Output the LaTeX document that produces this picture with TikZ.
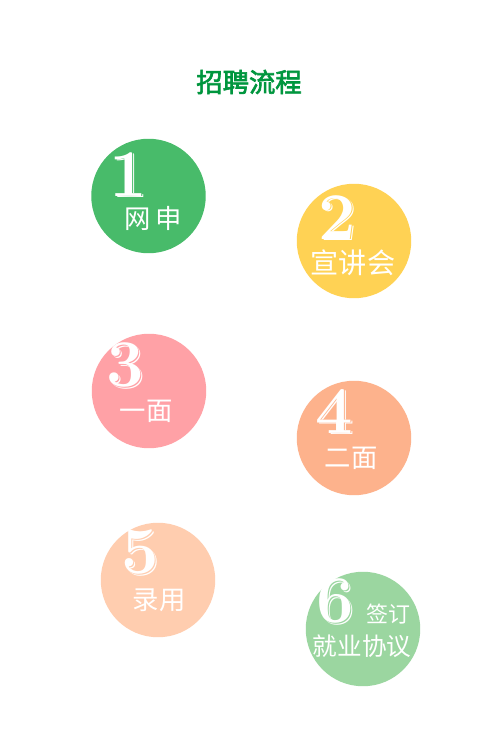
\documentclass[tikz,border=0pt]{standalone}
\usepackage{fontspec}
\usepackage{tikz}
\newfontfamily\cjk{Noto Sans CJK SC}
\newfontfamily\cjktitle[FakeBold=2.5]{Noto Sans CJK SC}
\definecolor{titlegreen}{RGB}{0,150,62}
\definecolor{stepgreen}{RGB}{72,187,106}
\definecolor{stepyellow}{RGB}{255,210,84}
\definecolor{steppink}{RGB}{255,161,166}
\definecolor{steporange}{RGB}{253,178,140}
\definecolor{steppeach}{RGB}{255,205,175}
\definecolor{steplgreen}{RGB}{155,214,160}
\tikzset{
  disc/.style={circle, draw=none, minimum size=2.29cm, inner sep=0pt},
  numtxt/.style={inner sep=0pt, text=white, font=\rmfamily\bfseries\fontsize{38}{38}\selectfont},
  steptxt/.style={inner sep=0pt, text=white, font=\cjk\fontsize{15}{15}\selectfont},
}
% digit with engraved look: white shadow, coloured line, white face
\newcommand\engraved[2]{%
  \rlap{\hspace{0.4mm}\raisebox{-0.3mm}{#2}}%
  \rlap{\hspace{0.2mm}\raisebox{-0.15mm}{\color{#1}#2}}#2}
\begin{document}
\begin{tikzpicture}[x=0.02cm,y=-0.02cm]
\useasboundingbox[fill=white] (0,0) rectangle (500,750);
\node[font=\cjktitle\fontsize{15}{15}\selectfont, text=titlegreen] (title) at (249,82) {招聘流程};
% circles
\node[disc, fill=stepgreen] (d1) at (148.5,196) {};
\node[disc, fill=stepyellow] (d2) at (354,241) {};
\node[disc, fill=steppink] (d3) at (149,391) {};
\node[disc, fill=steporange] (d4) at (354,438) {};
\node[disc, fill=steppeach] (d5) at (158,580) {};
\node[disc, fill=steplgreen] (d6) at (363,629) {};
% numbers
\node[numtxt] (n1) at (128,175) {\engraved{stepgreen}{1}};
\node[numtxt] (n2) at (337,218) {\engraved{stepyellow}{2}};
\node[numtxt] (n3) at (125,366) {\engraved{steppink}{3}};
\node[numtxt] (n4) at (334,412) {\engraved{steporange}{4}};
\node[numtxt] (n5) at (140,553) {\engraved{steppeach}{5}};
\node[numtxt] (n6) at (335,602) {\engraved{steplgreen}{6}};
% step names
\node[steptxt] (t1) at (153,218) {网\hspace{3pt}申};
\node[steptxt, font=\cjk\fontsize{16}{16}\selectfont] (t2) at (353,263) {宣讲会};
\node[steptxt] (t3) at (146,411) {一面};
\node[steptxt] (t4) at (351,458) {二面};
\node[steptxt] (t5) at (159,600) {录用};
\node[steptxt, font=\cjk\fontsize{12.5}{12.5}\selectfont] (t6a) at (388,614) {签订};
\node[steptxt, font=\cjk\fontsize{14}{14}\selectfont] (t6b) at (362,646) {就业协议};
\end{tikzpicture}
\end{document}
